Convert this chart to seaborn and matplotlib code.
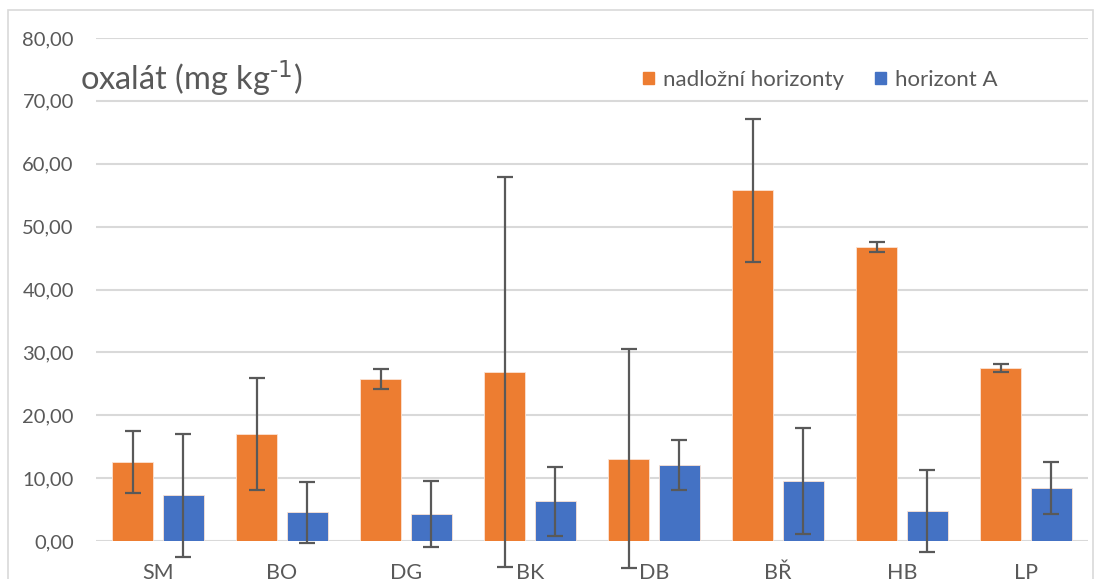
import numpy as np
import pandas as pd
import seaborn as sns
import matplotlib.pyplot as plt
from matplotlib.ticker import FuncFormatter
from matplotlib.patches import Rectangle

# values
sites = ["SM", "BO", "DG", "BK", "DB", "BŘ", "HB", "LP"]
horizons = ["nadložní horizonty", "horizont A"]
upper_mean = [12.56, 17.0, 25.75, 26.9, 13.1, 55.8, 46.7, 27.5]
upper_err = [5.0, 8.85, 1.55, 31.0, 17.4, 11.35, 0.8, 0.6]
a_mean = [7.26, 4.56, 4.3, 6.3, 12.1, 9.54, 4.8, 8.4]
a_err = [9.8, 4.8, 5.2, 5.5, 4.0, 8.5, 6.5, 4.1]

orange = "#ED7D31"
blue = "#4472C4"
grid_col = "#D9D9D9"
text_col = "#595959"

df = pd.DataFrame({
    "site": sites * 2,
    "horizon": [horizons[0]] * len(sites) + [horizons[1]] * len(sites),
    "value": upper_mean + a_mean,
})

sns.set_style("white")
plt.rcParams["font.family"] = ["Lato", "DejaVu Sans"]
plt.rcParams["mathtext.default"] = "regular"

fig = plt.figure(figsize=(10.95, 5.79), dpi=100)
ax = fig.add_axes([96 / 1095, 38 / 579, 992 / 1095, 503 / 579])

# chart frame like the Excel chart area
fig.patches.append(Rectangle((8 / 1095, -0.1), 1085 / 1095, 1.1 - 10 / 579,
                             transform=fig.transFigure, fill=False,
                             edgecolor="#D9D9D9", linewidth=1.2))

sns.barplot(data=df, x="site", y="value", hue="horizon", order=sites,
            hue_order=horizons, palette=[orange, blue], saturation=1,
            errorbar=None, width=0.82, gap=0.195, edgecolor="#FBE3D3",
            linewidth=0.6, legend=False, ax=ax, zorder=3)

# error bars on top of the bars seaborn drew
for cont, errs in zip(ax.containers, [upper_err, a_err]):
    xs = [b.get_x() + b.get_width() / 2 for b in cont]
    ys = [b.get_height() for b in cont]
    eb = ax.errorbar(xs, ys, yerr=errs, fmt="none", ecolor=text_col,
                     elinewidth=1.6, capsize=6, capthick=1.6, zorder=4)
    for art in eb.lines[1] + eb.lines[2]:
        art.set_clip_on(False)

ax.set_ylim(0, 80)
ax.set_xlim(-0.5, 7.5)
ax.set_yticks(np.arange(0, 81, 10))
ax.yaxis.set_major_formatter(FuncFormatter(lambda v, p: f"{v:.2f}".replace(".", ",")))
ax.grid(axis="y", color=grid_col, linewidth=1.5, zorder=0)
ax.set_axisbelow(True)
for s in ax.spines.values():
    s.set_visible(False)
ax.tick_params(axis="y", length=0, pad=16, labelsize=14.5, labelcolor=text_col)
ax.tick_params(axis="x", length=0, pad=15.5, labelsize=15.5, labelcolor=text_col)
ax.set_xlabel("")
ax.set_ylabel("")

fig.text(80 / 1095, 1 - 78 / 579, r"oxalát (mg kg$^{\text{-1}}$)", fontsize=23.5,
         color=text_col, va="center", ha="left")

# legend
handles = [Rectangle((0, 0), 1, 1, color=orange), Rectangle((0, 0), 1, 1, color=blue)]
fig.legend(handles, horizons, loc="center left",
           bbox_to_anchor=(643 / 1095, 1 - 80 / 579), ncol=2, frameon=False,
           fontsize=16, labelcolor=text_col, handlelength=0.5, handleheight=0.5,
           handletextpad=0.4, columnspacing=1.4, borderpad=0, borderaxespad=0)

fig.savefig("out.png", dpi=100)
